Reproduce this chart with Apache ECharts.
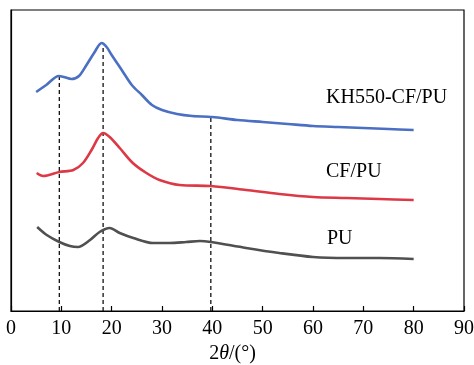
<!DOCTYPE html>
<html>
<head>
<meta charset="utf-8">
<script src="https://cdn.jsdelivr.net/npm/echarts@6/dist/echarts.min.js"></script>
<style>
  body { margin: 0; padding: 0; background: #fff; }
  #chart { width: 474px; height: 365px; }
</style>
</head>
<body>
<div id="chart"></div>
<script>
// 2theta positions and (offset) intensities
var kh550X = [5, 7, 9.5, 10.5, 12, 13.5, 15, 16.5, 18, 19, 20, 22, 24, 26, 28, 30, 33, 36, 40, 45, 50, 55, 60, 65, 70, 75, 80];
var kh550Y = [219, 226, 235, 234, 232, 235, 246, 258, 268, 264, 256, 241, 226, 216, 206, 201, 197, 195, 194, 191, 189, 187, 185, 184, 183, 182, 181];

var cfpuX = [5.1, 6.4, 9.6, 12.4, 14.3, 16, 17.3, 18.3, 19.6, 21.6, 24.2, 26.9, 29.5, 33.5, 39.7, 46.7, 53.3, 60, 66.6, 73.2, 80];
var cfpuY = [138, 135, 139, 141, 148, 161, 173, 178, 174, 163, 148, 138, 131, 126, 125, 121, 117, 114, 113, 112, 111];

var puX = [5.2, 7.1, 9.6, 11.7, 13.3, 15.7, 17.6, 19.6, 21.6, 24.3, 28.2, 31.5, 34.8, 37.5, 39.7, 46.7, 53.3, 60, 66.6, 73.2, 80];
var puY = [84, 76, 69, 65, 64, 71, 79, 83, 78, 73, 68, 68, 69, 70, 69, 63, 58, 54, 53, 53, 52];

// dashed guide lines: peak positions and the height they reach
var dashX = [9.6, 18.3, 39.7];
var dashTop = [235, 264, 193];

var xTicks = [0, 10, 20, 30, 40, 50, 60, 70, 80, 90];

function pairs(xs, ys) {
  var out = [];
  for (var i = 0; i < xs.length; i++) out.push([xs[i], ys[i]]);
  return out;
}

var serif = 'Liberation Serif';
var chart = echarts.init(document.getElementById('chart'));

var series = [];
for (var i = 0; i < dashX.length; i++) {
  series.push({
    type: 'line',
    symbol: 'none',
    silent: true,
    z: 1,
    lineStyle: { color: '#111', width: 1.3, type: [4, 3] },
    data: [[dashX[i], 0], [dashX[i], dashTop[i]]]
  });
}
series.push({
  name: 'KH550-CF/PU', type: 'line', symbol: 'none', smooth: 0.3, z: 3,
  lineStyle: { color: '#4a6fc3', width: 2.6 },
  data: pairs(kh550X, kh550Y)
});
series.push({
  name: 'CF/PU', type: 'line', symbol: 'none', smooth: 0.3, z: 3,
  lineStyle: { color: '#dd3846', width: 2.6 },
  data: pairs(cfpuX, cfpuY)
});
series.push({
  name: 'PU', type: 'line', symbol: 'none', smooth: 0.3, z: 3,
  lineStyle: { color: '#505050', width: 2.6 },
  data: pairs(puX, puY)
});

var option = {
  animation: false,
  backgroundColor: '#fff',
  grid: {
    left: 11, right: 10, top: 10, bottom: 54,
    containLabel: false,
    outerBoundsMode: 'none',
    show: true, borderColor: '#000', borderWidth: 1.2
  },
  xAxis: {
    type: 'value',
    min: xTicks[0],
    max: xTicks[xTicks.length - 1],
    interval: 10,
    name: '2{i|θ}/(°)',
    nameLocation: 'middle',
    nameGap: 28,
    nameTextStyle: {
      fontFamily: serif, fontSize: 20, color: '#000',
      padding: [0, 10, 0, 0],
      rich: { i: { fontFamily: serif, fontSize: 20, fontStyle: 'italic', color: '#000' } }
    },
    axisLine: { lineStyle: { color: '#000', width: 1.2 } },
    axisTick: { inside: true, length: 5, lineStyle: { color: '#000', width: 1.2 } },
    axisLabel: { fontFamily: serif, fontSize: 20, color: '#000', margin: 8 },
    splitLine: { show: false }
  },
  yAxis: {
    type: 'value',
    min: 0,
    max: 301,
    axisLine: { show: true, lineStyle: { color: '#000', width: 1.2 } },
    axisTick: { show: false },
    axisLabel: { show: false },
    splitLine: { show: false }
  },
  graphic: [
    { type: 'text', left: 326, top: 88, style: { text: 'KH550-CF/PU', fontFamily: serif, fontSize: 20, fill: '#000' } },
    { type: 'text', left: 326, top: 162, style: { text: 'CF/PU', fontFamily: serif, fontSize: 20, fill: '#000' } },
    { type: 'text', left: 327, top: 229, style: { text: 'PU', fontFamily: serif, fontSize: 20, fill: '#000' } }
  ],
  series: series
};
chart.setOption(option);
</script>
</body>
</html>
